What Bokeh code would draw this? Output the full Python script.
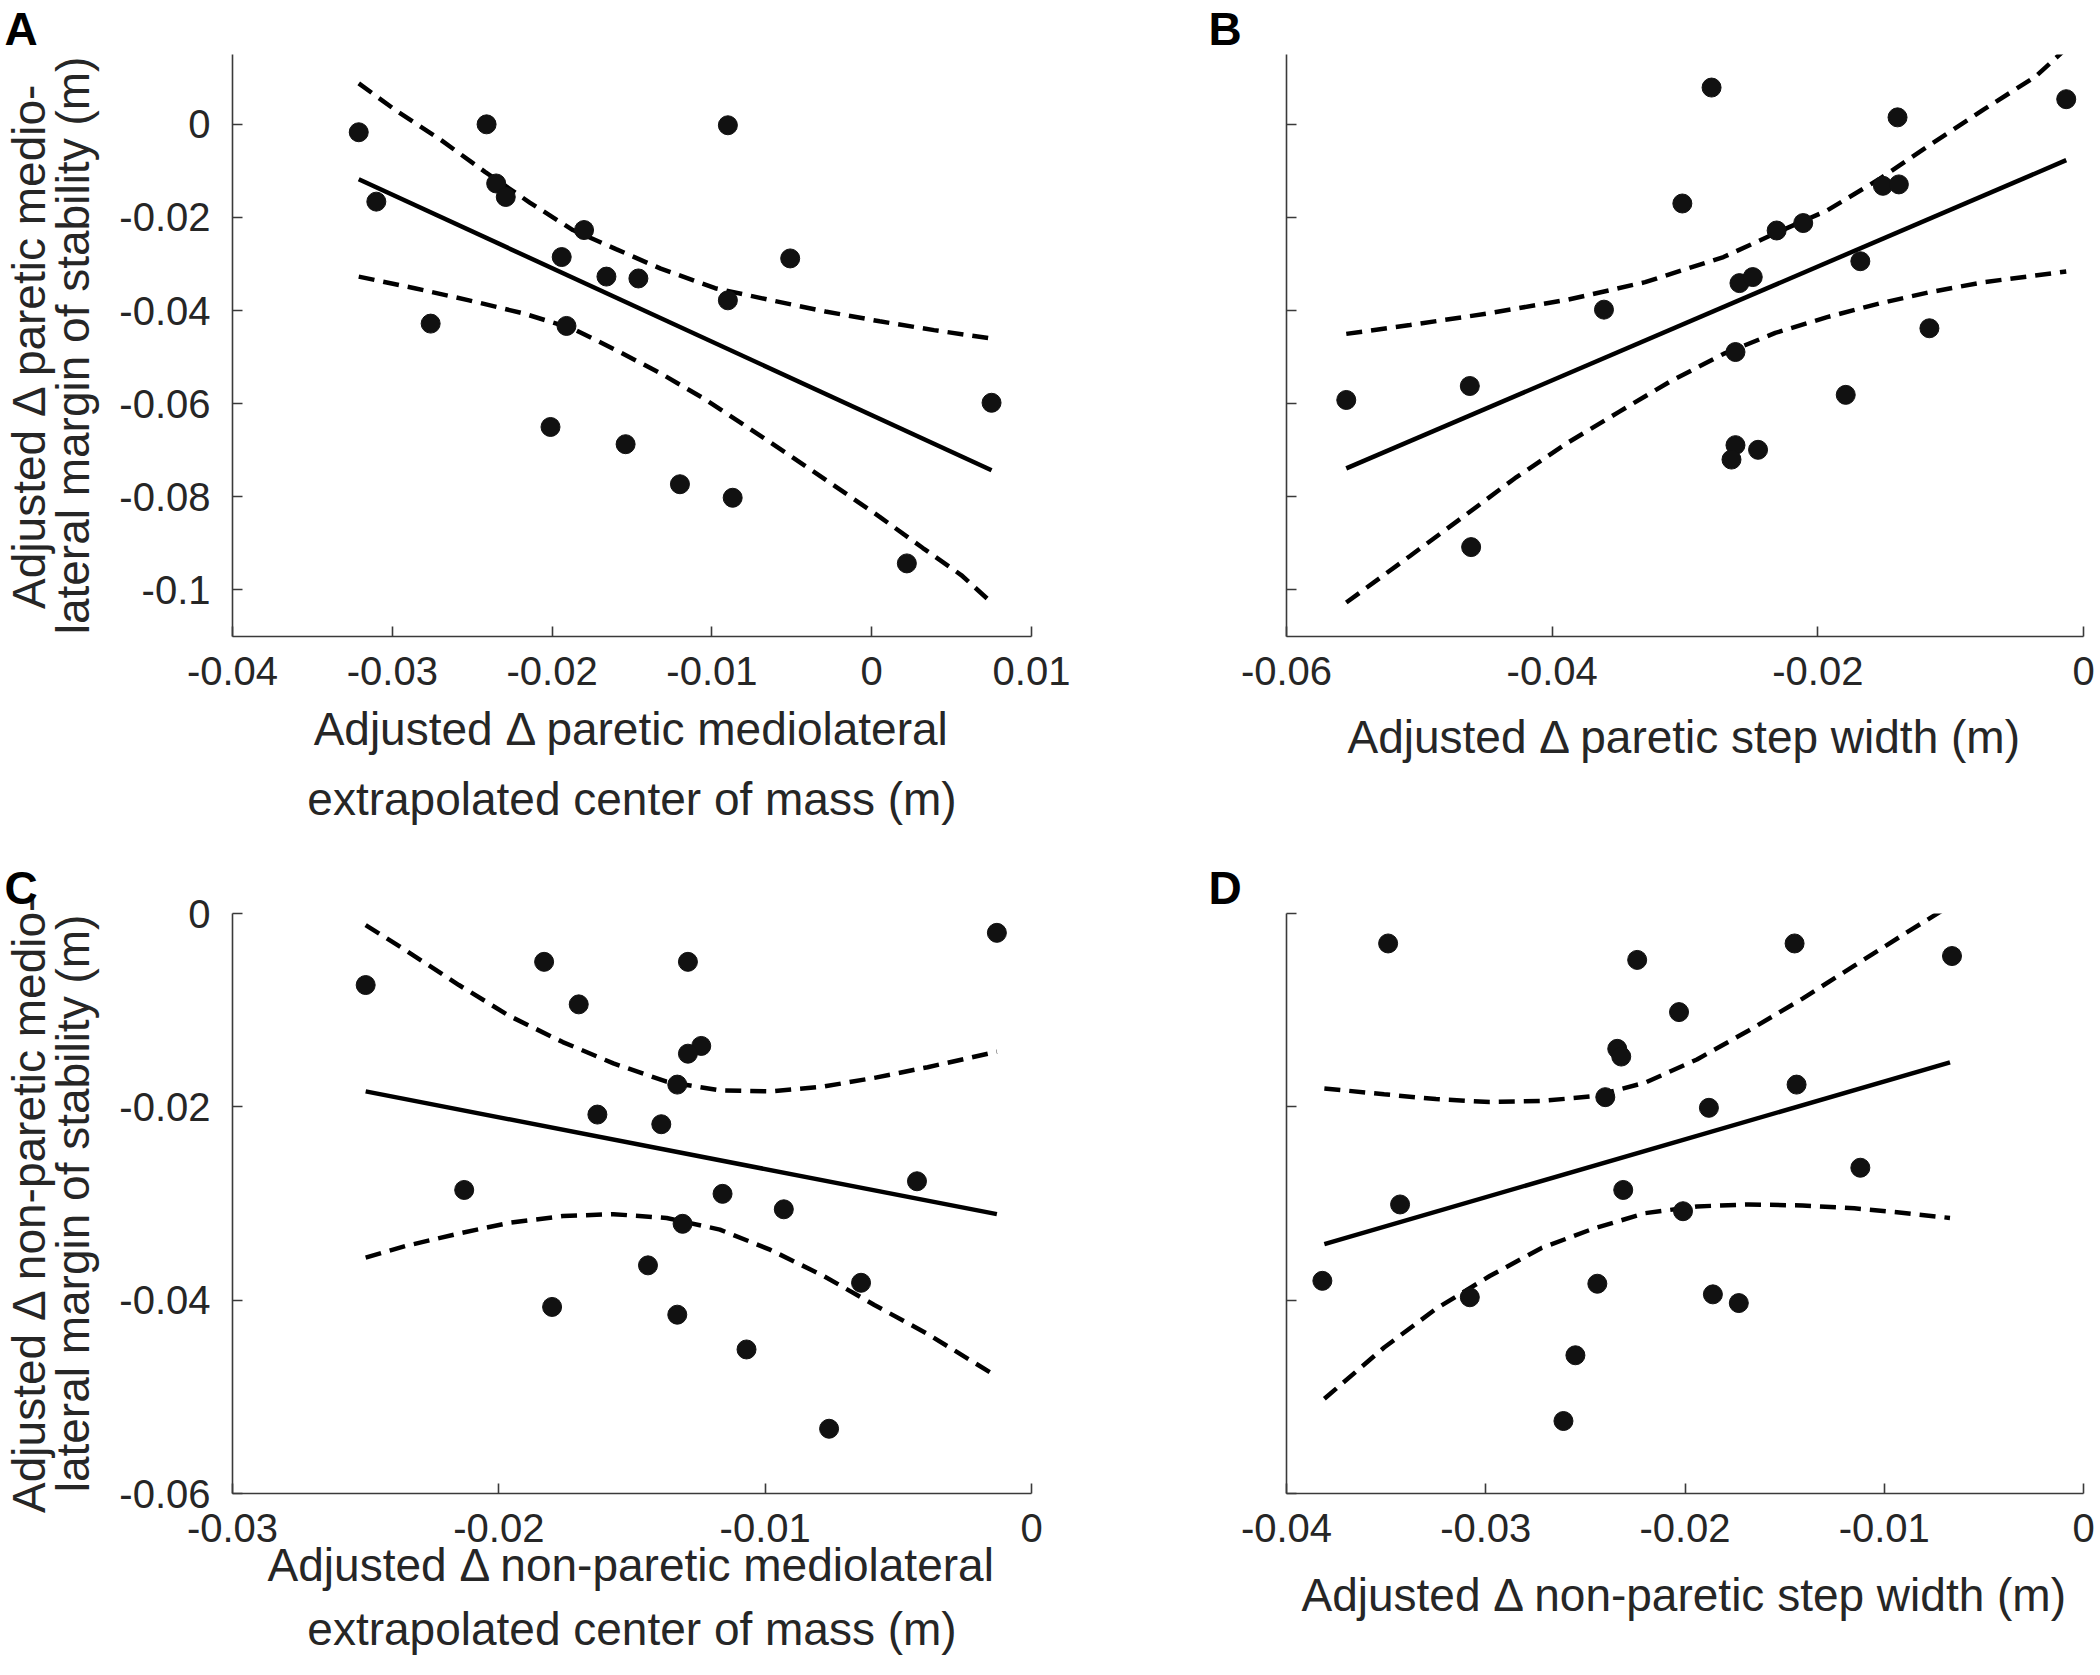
from bokeh.plotting import figure
from bokeh.models import Range1d, FixedTicker, CustomJSTickFormatter
from bokeh.layouts import column, row
from bokeh.embed import file_html
from bokeh.resources import INLINE

# ---------------- Panel A ----------------
a_x = [-0.0321, -0.0310, -0.0241, -0.0235, -0.0229, -0.0276, -0.0180, -0.0194, -0.0166, -0.0146,
       -0.0191, -0.0201, -0.0154, -0.0120, -0.0087, -0.0090, -0.0090, -0.0051, 0.0022, 0.0075]
a_y = [-0.0017, -0.0166, 0.0000, -0.0127, -0.0156, -0.0428, -0.0227, -0.0285, -0.0327, -0.0331,
       -0.0433, -0.0650, -0.0687, -0.0773, -0.0802, -0.0002, -0.0378, -0.0288, -0.0943, -0.0598]
a_fit_x = [-0.0321, 0.0075]
a_fit_y = [-0.0118, -0.0743]
a_up_x = [-0.0321, -0.0297, -0.0269, -0.0242, -0.0214, -0.0187, -0.0160, -0.0132, -0.0098, -0.0064,
          -0.0029, 0.0005, 0.0039, 0.0075]
a_up_y = [0.0088, 0.0028, -0.0035, -0.0102, -0.0168, -0.0227, -0.0268, -0.0310, -0.0352, -0.0377,
          -0.0402, -0.0423, -0.0442, -0.0460]
a_lo_x = [-0.0321, -0.0286, -0.0252, -0.0218, -0.0187, -0.0160, -0.0132, -0.0105, -0.0077, -0.0050,
          -0.0023, 0.0005, 0.0032, 0.0056, 0.0075]
a_lo_y = [-0.0327, -0.0352, -0.0378, -0.0406, -0.0439, -0.0485, -0.0535, -0.0589, -0.0652, -0.0714,
          -0.0777, -0.0843, -0.0910, -0.0968, -0.1027]
a_xticks = [-0.04, -0.03, -0.02, -0.01, 0.0, 0.01]
a_yticks = [-0.1, -0.08, -0.06, -0.04, -0.02, 0.0]

# ---------------- Panel B ----------------
b_x = [-0.0555, -0.0462, -0.0461, -0.0361, -0.0302, -0.0280, -0.0262, -0.0259, -0.0249, -0.0262,
       -0.0265, -0.0245, -0.0231, -0.0211, -0.0179, -0.0168, -0.0151, -0.0139, -0.0140, -0.0116, -0.0013]
b_y = [-0.0592, -0.0562, -0.0908, -0.0398, -0.0170, 0.0079, -0.0489, -0.0341, -0.0328, -0.0689,
       -0.0720, -0.0699, -0.0228, -0.0212, -0.0581, -0.0294, -0.0132, -0.0129, 0.0015, -0.0438, 0.0054]
b_fit_x = [-0.0555, -0.0013]
b_fit_y = [-0.0739, -0.0077]
b_up_x = [-0.0555, -0.0507, -0.0448, -0.0389, -0.0330, -0.0271, -0.0232, -0.0193, -0.0154, -0.0115,
          -0.0075, -0.0036, -0.0013]
b_up_y = [-0.0450, -0.0431, -0.0406, -0.0377, -0.0339, -0.0285, -0.0234, -0.0185, -0.0118, -0.0043,
          0.0032, 0.0103, 0.0163]
b_lo_x = [-0.0555, -0.0507, -0.0467, -0.0428, -0.0389, -0.0350, -0.0311, -0.0271, -0.0232, -0.0193,
          -0.0154, -0.0115, -0.0075, -0.0013]
b_lo_y = [-0.1027, -0.0927, -0.0843, -0.0760, -0.0685, -0.0618, -0.0552, -0.0493, -0.0448, -0.0414,
          -0.0385, -0.0360, -0.0339, -0.0316]
b_xticks = [-0.06, -0.04, -0.02, 0.0]
b_yticks = [-0.1, -0.08, -0.06, -0.04, -0.02, 0.0]

# ---------------- Panel C ----------------
c_x = [-0.0250, -0.0183, -0.0170, -0.0129, -0.0124, -0.0129, -0.0133, -0.0163, -0.0139, -0.0213,
       -0.0116, -0.0093, -0.0131, -0.0043, -0.0144, -0.0064, -0.0180, -0.0133, -0.0107, -0.0076, -0.0013]
c_y = [-0.0074, -0.0050, -0.0094, -0.0050, -0.0137, -0.0145, -0.0177, -0.0208, -0.0218, -0.0286,
       -0.0290, -0.0306, -0.0321, -0.0277, -0.0364, -0.0382, -0.0407, -0.0415, -0.0451, -0.0533, -0.0020]
c_fit_x = [-0.0250, -0.0013]
c_fit_y = [-0.0184, -0.0311]
c_up_x = [-0.0250, -0.0235, -0.0215, -0.0196, -0.0176, -0.0157, -0.0137, -0.0117, -0.0098, -0.0078,
          -0.0059, -0.0039, -0.0013]
c_up_y = [-0.0012, -0.0038, -0.0074, -0.0106, -0.0133, -0.0155, -0.0174, -0.0183, -0.0184, -0.0179,
          -0.0170, -0.0159, -0.0143]
c_lo_x = [-0.0250, -0.0235, -0.0215, -0.0196, -0.0176, -0.0157, -0.0137, -0.0117, -0.0098, -0.0078,
          -0.0059, -0.0039, -0.0013]
c_lo_y = [-0.0356, -0.0344, -0.0331, -0.0320, -0.0313, -0.0311, -0.0315, -0.0327, -0.0348, -0.0375,
          -0.0405, -0.0435, -0.0479]
c_xticks = [-0.03, -0.02, -0.01, 0.0]
c_yticks = [-0.06, -0.04, -0.02, 0.0]

# ---------------- Panel D ----------------
d_x = [-0.0382, -0.0349, -0.0343, -0.0308, -0.0261, -0.0255, -0.0244, -0.0240, -0.0234, -0.0232,
       -0.0231, -0.0224, -0.0203, -0.0201, -0.0188, -0.0186, -0.0173, -0.0145, -0.0144, -0.0112, -0.0066]
d_y = [-0.0380, -0.0031, -0.0301, -0.0397, -0.0525, -0.0457, -0.0383, -0.0190, -0.0140, -0.0148,
       -0.0286, -0.0048, -0.0102, -0.0308, -0.0201, -0.0394, -0.0403, -0.0031, -0.0177, -0.0263, -0.0044]
d_fit_x = [-0.0381, -0.0067]
d_fit_y = [-0.0342, -0.0154]
d_up_x = [-0.0381, -0.0351, -0.0325, -0.0298, -0.0272, -0.0246, -0.0220, -0.0194, -0.0168, -0.0141,
          -0.0115, -0.0089, -0.0067]
d_up_y = [-0.0181, -0.0187, -0.0192, -0.0195, -0.0194, -0.0189, -0.0175, -0.0151, -0.0121, -0.0088,
          -0.0054, -0.0020, 0.0008]
d_lo_x = [-0.0381, -0.0351, -0.0325, -0.0298, -0.0272, -0.0246, -0.0220, -0.0194, -0.0168, -0.0141,
          -0.0115, -0.0089, -0.0067]
d_lo_y = [-0.0502, -0.0449, -0.0409, -0.0375, -0.0346, -0.0326, -0.0310, -0.0303, -0.0301, -0.0302,
          -0.0305, -0.0310, -0.0315]
d_xticks = [-0.04, -0.03, -0.02, -0.01, 0.0]
d_yticks = [-0.06, -0.04, -0.02, 0.0]

FONT = "Liberation Sans"
TXT = "#262626"
AX = "#3a3a3a"
TICK_FS = "40px"
LAB_FS = "46px"

fmt_code = "return (Math.round(tick*1000)/1000).toString();"


def make_panel(x, y, fx, fy, ux, uy, lx, ly, xr, yr, xticks, yticks, ylabels_on,
               letter, xlab, ylab, w, h, bl, br, bt, bb, xlab_standoff, xlab_lh, letter_offset):
    p = figure(width=w, height=h, x_range=Range1d(*xr), y_range=Range1d(*yr),
               toolbar_location=None, output_backend="svg",
               min_border_left=bl, min_border_right=br, min_border_top=bt, min_border_bottom=bb)
    p.outline_line_color = None
    p.xgrid.visible = False
    p.ygrid.visible = False
    p.background_fill_color = "white"
    p.border_fill_color = "white"

    p.title.text = letter
    p.title.align = "left"
    p.title.offset = letter_offset
    p.title.standoff = 0
    p.title.text_font = FONT
    p.title.text_font_size = "46px"
    p.title.text_font_style = "bold"
    p.title.text_color = "black"

    for ax, ticks in ((p.xaxis, xticks), (p.yaxis, yticks)):
        ax.ticker = FixedTicker(ticks=ticks)
        ax.major_tick_in = 10
        ax.major_tick_out = 0
        ax.minor_tick_line_color = None
        ax.axis_line_color = AX
        ax.axis_line_width = 1.6
        ax.major_tick_line_color = AX
        ax.major_tick_line_width = 1.6
        ax.major_label_text_font = FONT
        ax.major_label_text_font_size = TICK_FS
        ax.major_label_text_color = TXT
        ax.axis_label_text_font = FONT
        ax.axis_label_text_font_size = LAB_FS
        ax.axis_label_text_font_style = "normal"
        ax.axis_label_text_color = TXT
    p.xaxis.formatter = CustomJSTickFormatter(code=fmt_code)
    p.xaxis.major_label_standoff = 20
    p.yaxis.major_label_standoff = 22
    if ylabels_on:
        p.yaxis.formatter = CustomJSTickFormatter(code=fmt_code)
    else:
        p.yaxis.formatter = CustomJSTickFormatter(code="return '';")

    p.xaxis.axis_label = xlab
    p.xaxis.axis_label_standoff = xlab_standoff
    p.xaxis.axis_label_text_line_height = xlab_lh
    if ylab:
        p.yaxis.axis_label = ylab
        p.yaxis.axis_label_standoff = 17
        p.yaxis.axis_label_text_line_height = 0.85

    p.line(ux, uy, line_color="black", line_width=4.5, line_dash="16 9")
    p.line(lx, ly, line_color="black", line_width=4.5, line_dash="16 9")
    p.line(fx, fy, line_color="black", line_width=4.5)
    p.scatter(x, y, size=19, marker="circle", fill_color="#111111", line_color="#111111")
    return p


pA = make_panel(a_x, a_y, a_fit_x, a_fit_y, a_up_x, a_up_y, a_lo_x, a_lo_y,
                (-0.04, 0.01), (-0.11, 0.015), a_xticks, a_yticks, True, "A",
                "Adjusted \u0394 paretic mediolateral\nextrapolated center of mass (m)",
                "Adjusted \u0394 paretic medio-\nlateral margin of stability (m)",
                1070, 840, 228, 39, 54, 204, 15, 1.36, -228)

pB = make_panel(b_x, b_y, b_fit_x, b_fit_y, b_up_x, b_up_y, b_lo_x, b_lo_y,
                (-0.06, 0.0), (-0.11, 0.015), b_xticks, b_yticks, False, "B",
                "Adjusted \u0394 paretic step width (m)", None,
                1030, 840, 216, 17, 54, 204, 23, 1.36, -78)

pC = make_panel(c_x, c_y, c_fit_x, c_fit_y, c_up_x, c_up_y, c_lo_x, c_lo_y,
                (-0.03, 0.0), (-0.06, 0.0), c_xticks, c_yticks, True, "C",
                "Adjusted \u0394 non-paretic mediolateral\nextrapolated center of mass (m)",
                "Adjusted \u0394 non-paretic medio-\nlateral margin of stability (m)",
                1070, 830, 228, 39, 73, 177, -6, 1.24, -228)

pD = make_panel(d_x, d_y, d_fit_x, d_fit_y, d_up_x, d_up_y, d_lo_x, d_lo_y,
                (-0.04, 0.0), (-0.06, 0.0), d_xticks, d_yticks, False, "D",
                "Adjusted \u0394 non-paretic step width (m)", None,
                1030, 830, 216, 17, 73, 177, 24, 1.24, -78)

layout = column(row(pA, pB), row(pC, pD))
open("out.html", "w").write(file_html(layout, INLINE))
